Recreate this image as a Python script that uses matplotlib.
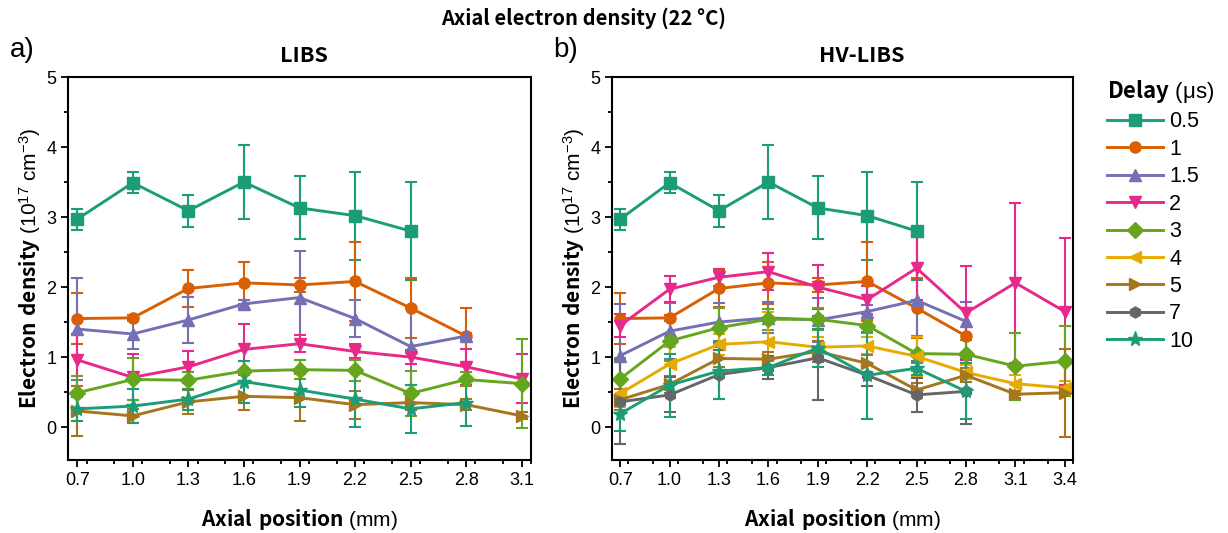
import numpy as np
import matplotlib
matplotlib.use('Agg')
import matplotlib.pyplot as plt
from matplotlib.lines import Line2D
from matplotlib.ticker import MultipleLocator

plt.rcParams['font.family'] = ['Liberation Sans', 'DejaVu Sans']
plt.rcParams['mathtext.fontset'] = 'custom'
plt.rcParams['mathtext.rm'] = 'Liberation Sans'
plt.rcParams['mathtext.bf'] = 'Noto Sans CJK JP:bold'
plt.rcParams['mathtext.default'] = 'regular'

BOLD = 'Noto Sans CJK JP'

# ── data ──────────────────────────────────────────────────────────────
x_libs = [0.7, 1.0, 1.3, 1.6, 1.9, 2.2, 2.5, 2.8, 3.1]
x_hv = [0.7, 1.0, 1.3, 1.6, 1.9, 2.2, 2.5, 2.8, 3.1, 3.4]

delays = ['0.5', '1', '1.5', '2', '3', '4', '5', '7', '10']
colors = ['#1b9e77', '#d95f02', '#7570b3', '#e7298a', '#66a61e',
          '#e6ab02', '#a6761d', '#666666', '#1b9e77']
markers = ['s', 'o', '^', 'v', 'D', '<', '>', 'h', '*']

# LIBS (no 4 us / 7 us data)
libs_05 = [2.97, 3.49, 3.09, 3.50, 3.13, 3.02, 2.80]
libs_05_err = [0.15, 0.15, 0.23, 0.53, 0.45, 0.63, 0.70]
libs_1 = [1.55, 1.56, 1.98, 2.06, 2.03, 2.08, 1.70, 1.30]
libs_1_err = [0.37, 0.04, 0.26, 0.30, 0.10, 0.56, 0.43, 0.40]
libs_15 = [1.40, 1.33, 1.53, 1.76, 1.85, 1.55, 1.15, 1.30]
libs_15_err = [0.73, 0.21, 0.33, 0.06, 0.66, 0.26, 0.55, 0.05]
libs_2 = [0.96, 0.71, 0.86, 1.11, 1.19, 1.08, 1.00, 0.86, 0.69]
libs_2_err = [0.37, 0.33, 0.23, 0.36, 0.12, 0.10, 0.10, 0.26, 0.35]
libs_3 = [0.49, 0.68, 0.67, 0.80, 0.82, 0.81, 0.48, 0.68, 0.62]
libs_3_err = [0.24, 0.30, 0.12, 0.14, 0.14, 0.15, 0.32, 0.10, 0.64]
libs_5 = [0.23, 0.16, 0.36, 0.44, 0.42, 0.32, 0.35, 0.32, 0.16]
libs_5_err = [0.36, 0.10, 0.17, 0.19, 0.34, 0.20, 0.10, 0.08, 0.05]
libs_10 = [0.26, 0.30, 0.40, 0.65, 0.53, 0.40, 0.26, 0.35]
libs_10_err = [0.17, 0.24, 0.15, 0.30, 0.25, 0.40, 0.34, 0.33]

# HV-LIBS
hv_05 = [2.97, 3.49, 3.09, 3.50, 3.13, 3.02, 2.80]
hv_05_err = [0.15, 0.15, 0.23, 0.53, 0.45, 0.63, 0.70]
hv_1 = [1.55, 1.56, 1.98, 2.06, 2.03, 2.08, 1.70, 1.30]
hv_1_err = [0.37, 0.04, 0.26, 0.30, 0.10, 0.56, 0.43, 0.40]
hv_15 = [1.02, 1.37, 1.50, 1.56, 1.53, 1.65, 1.81, 1.51]
hv_15_err = [0.74, 0.40, 0.27, 0.22, 0.32, 0.10, 0.90, 0.27]
hv_2 = [1.45, 1.97, 2.14, 2.22, 2.00, 1.82, 2.27, 1.63, 2.06, 1.65]
hv_2_err = [0.17, 0.19, 0.12, 0.26, 0.32, 0.20, 0.45, 0.67, 1.14, 1.05]
hv_3 = [0.69, 1.23, 1.42, 1.54, 1.54, 1.45, 1.05, 1.04, 0.87, 0.94]
hv_3_err = [0.30, 0.28, 0.28, 0.15, 0.16, 0.10, 0.25, 0.20, 0.48, 0.50]
hv_4 = [0.48, 0.90, 1.18, 1.22, 1.14, 1.16, 1.01, 0.78, 0.62, 0.56]
hv_4_err = [0.20, 0.25, 0.15, 0.42, 0.15, 0.12, 0.28, 0.10, 0.12, 0.10]
hv_5 = [0.39, 0.61, 0.98, 0.97, 1.08, 0.91, 0.53, 0.74, 0.47, 0.49]
hv_5_err = [0.15, 0.12, 0.12, 0.10, 0.15, 0.12, 0.10, 0.10, 0.05, 0.63]
hv_7 = [0.36, 0.46, 0.75, 0.85, 0.99, 0.74, 0.46, 0.51]
hv_7_err = [0.60, 0.25, 0.35, 0.17, 0.60, 0.15, 0.24, 0.46]
hv_10 = [0.19, 0.60, 0.80, 0.85, 1.13, 0.74, 0.84, 0.51]
hv_10_err = [0.24, 0.45, 0.40, 0.10, 0.27, 0.62, 0.10, 0.40]

libs_series = {
    '0.5': (libs_05, libs_05_err), '1': (libs_1, libs_1_err),
    '1.5': (libs_15, libs_15_err), '2': (libs_2, libs_2_err),
    '3': (libs_3, libs_3_err), '5': (libs_5, libs_5_err),
    '10': (libs_10, libs_10_err),
}
hv_series = {
    '0.5': (hv_05, hv_05_err), '1': (hv_1, hv_1_err),
    '1.5': (hv_15, hv_15_err), '2': (hv_2, hv_2_err),
    '3': (hv_3, hv_3_err), '4': (hv_4, hv_4_err),
    '5': (hv_5, hv_5_err), '7': (hv_7, hv_7_err),
    '10': (hv_10, hv_10_err),
}

W, H = 1228, 533
fig = plt.figure(figsize=(W / 100, H / 100), dpi=100)

ax_l = fig.add_axes([68 / W, 1 - 460 / H, 463 / W, 383 / H])
ax_r = fig.add_axes([612 / W, 1 - 460 / H, 461 / W, 383 / H])


def draw_panel(ax, xs, series, xmax, title, title_x):
    for d, c, m in zip(delays, colors, markers):
        if d not in series:
            continue
        y, e = series[d]
        ms = 11 if m == '*' else 8
        ax.errorbar(xs[:len(y)], y, yerr=e, color=c, marker=m, ms=ms,
                    lw=2.1, elinewidth=1.5, capsize=4, capthick=1.5)
    ax.set_xlim(0.65, xmax)
    ax.set_ylim(-0.47, 5.0)
    ax.set_xticks(xs)
    ax.set_xticklabels([f'{v:.1f}' for v in xs])
    ax.xaxis.set_minor_locator(MultipleLocator(0.15))
    ax.yaxis.set_major_locator(MultipleLocator(1))
    ax.yaxis.set_minor_locator(MultipleLocator(0.5))
    ax.tick_params(which='major', direction='out', length=5, width=1.3,
                   labelsize=13)
    ax.tick_params(which='minor', direction='out', length=3, width=1.3)
    for sp in ax.spines.values():
        sp.set_linewidth(1.5)
    ax.text(title_x, 1.055, title, transform=ax.transAxes, ha='center',
            va='center', fontsize=15.5, fontweight='bold', family=BOLD)
    ax.text(0.5, -0.155, r'$\mathbf{Axial\ position}$ (mm)',
            transform=ax.transAxes, ha='center', va='center', fontsize=15)
    ax.text(-0.082, 0.5,
            r'$\mathbf{Electron\ density}$ (10$^{17}$ cm$^{-3}$)',
            transform=ax.transAxes, ha='center', va='center',
            rotation=90, fontsize=15)


draw_panel(ax_l, x_libs, libs_series, 3.15, 'LIBS', 0.51)
draw_panel(ax_r, x_hv, hv_series, 3.45, 'HV-LIBS', 0.542)

fig.text(584 / W, 1 - 18 / H, 'Axial electron density (22 °C)',
         ha='center', va='center', fontsize=14.5, fontweight='bold',
         family=BOLD)
fig.text(10 / W, 1 - 50 / H, 'a)', ha='left', va='center', fontsize=20)
fig.text(553 / W, 1 - 50 / H, 'b)', ha='left', va='center', fontsize=20)

handles = [Line2D([], [], color=c, marker=m, ms=(11 if m == '*' else 8),
                  lw=2.1) for c, m in zip(colors, markers)]
leg = fig.legend(handles, delays, loc='upper left',
                 bbox_to_anchor=(1096 / W, 1 - 67 / H), frameon=False,
                 fontsize=15.5, handlelength=2.6, handletextpad=0.3,
                 labelspacing=0.3, borderpad=0,
                 title=r'$\mathbf{Delay}$ (μs)', title_fontsize=16,
                 alignment='left')

fig.savefig('out.png', dpi=100)
